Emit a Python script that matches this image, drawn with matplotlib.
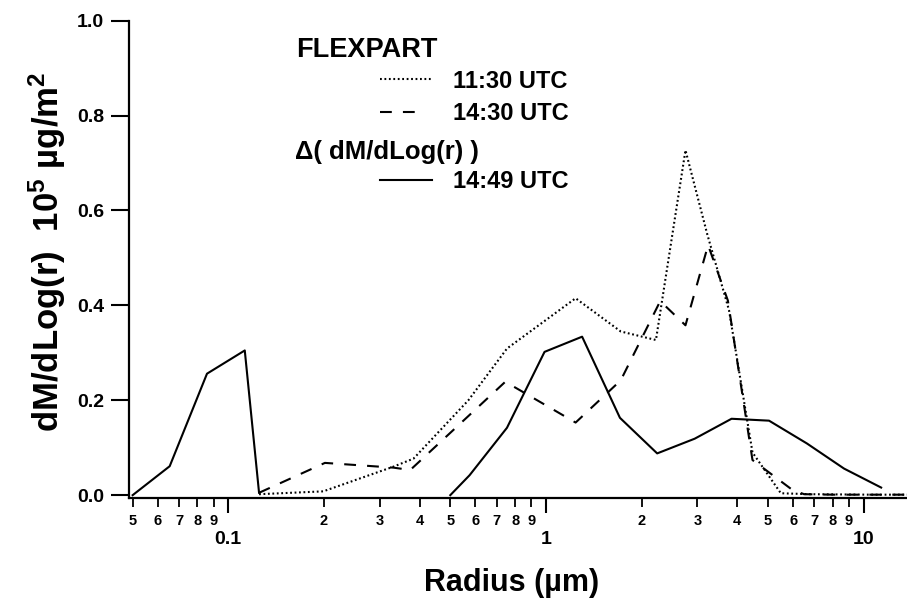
import numpy as np
import matplotlib
matplotlib.use("Agg")
import matplotlib.pyplot as plt
from matplotlib.lines import Line2D
from matplotlib.ticker import FixedLocator, FixedFormatter

plt.rcParams['font.family'] = ['Liberation Sans', 'DejaVu Sans']
plt.rcParams['font.weight'] = 'bold'
plt.rcParams['mathtext.fontset'] = 'custom'
plt.rcParams['mathtext.rm'] = 'Liberation Sans:bold'
plt.rcParams['mathtext.it'] = 'Liberation Sans:bold'
plt.rcParams['mathtext.bf'] = 'Liberation Sans:bold'
plt.rcParams['lines.scale_dashes'] = False

# FLEXPART mass size distribution, 11:30 UTC (dotted)
radius_1130 = [0.125, 0.199, 0.331, 0.383, 0.57, 0.754, 1.24, 1.72, 2.22,
               2.75, 3.22, 3.77, 4.47, 5.49, 6.8, 8.5, 10.5, 13.0, 16.0]
dmdlogr_1130 = [0.002, 0.008, 0.060, 0.077, 0.200, 0.309, 0.415, 0.345, 0.327,
                0.727, 0.550, 0.390, 0.090, 0.004, 0.002, 0.0015, 0.001, 0.001, 0.001]

# FLEXPART mass size distribution, 14:30 UTC (dashed)
radius_1430 = [0.125, 0.2015, 0.331, 0.374, 0.745, 1.24, 1.72, 2.29, 2.75,
               3.24, 3.74, 4.47, 5.97, 6.5, 8.0, 10.5, 13.0, 16.0]
dmdlogr_1430 = [0.005, 0.068, 0.058, 0.053, 0.239, 0.153, 0.242, 0.409, 0.358,
                0.527, 0.410, 0.074, 0.011, 0.002, 0.001, 0.001, 0.001, 0.001]

# Measured difference in dM/dLog(r), 14:49 UTC (solid); gap where not retrieved
radius_1449 = [0.05, 0.0654, 0.0857, 0.1127, 0.125, np.nan, 0.5, 0.575, 0.754,
               0.99, 1.30, 1.71, 2.24, 2.94, 3.84, 5.04, 6.63, 8.68, 11.36]
dmdlogr_1449 = [0.0, 0.061, 0.256, 0.305, 0.005, np.nan, 0.0, 0.042, 0.142,
                0.302, 0.334, 0.163, 0.088, 0.119, 0.161, 0.157, 0.109, 0.056, 0.016]

y_ticks = [0.0, 0.2, 0.4, 0.6, 0.8, 1.0]
x_major = [0.1, 1, 10]
x_major_labels = ['0.1', '1', '10']
x_minor = [0.05, 0.06, 0.07, 0.08, 0.09,
           0.2, 0.3, 0.4, 0.5, 0.6, 0.7, 0.8, 0.9,
           2, 3, 4, 5, 6, 7, 8, 9]
x_minor_labels = ['5', '6', '7', '8', '9',
                  '2', '3', '4', '5', '6', '7', '8', '9',
                  '2', '3', '4', '5', '6', '7', '8', '9']

W, H = 907, 602
fig = plt.figure(figsize=(W / 100, H / 100), dpi=100)


def fx(px):
    return px / W


def fy(py):
    return 1 - py / H


ax_left, ax_right, ax_top, ax_bottom = 129.3, 907.0, 20.7, 498.0
ax = fig.add_axes([fx(ax_left), fy(ax_bottom),
                   (ax_right - ax_left) / W, (ax_bottom - ax_top) / H])

LW = 1.5
dotted = (0, (1.3, 1.9))
dashed = (0, (8.5, 8.0))

ax.plot(radius_1130, dmdlogr_1130, color='black', lw=LW, linestyle=dotted,
        dash_capstyle='butt')
ax.plot(radius_1430, dmdlogr_1430, color='black', lw=LW, linestyle=dashed,
        dash_capstyle='butt')
ax.plot(radius_1449, dmdlogr_1449, color='black', lw=LW, linestyle='-')

ax.set_xscale('log')
ax.set_xlim(0.0488, 13.7)
ax.set_ylim(-0.006, 1.0)

for side in ('top', 'right'):
    ax.spines[side].set_visible(False)
for side in ('left', 'bottom'):
    ax.spines[side].set_linewidth(1.6)

ax.set_yticks(y_ticks)
ax.set_yticklabels([f'{t:.1f}' for t in y_ticks], fontsize=14, fontweight='bold')
ax.tick_params(axis='y', direction='out', length=13, width=1.5, pad=5)

ax.xaxis.set_major_locator(FixedLocator(x_major))
ax.xaxis.set_major_formatter(FixedFormatter(x_major_labels))
ax.xaxis.set_minor_locator(FixedLocator(x_minor))
ax.xaxis.set_minor_formatter(FixedFormatter(x_minor_labels))
ax.tick_params(axis='x', which='major', direction='out', length=11, width=1.5,
               pad=13, labelsize=14)
ax.tick_params(axis='x', which='minor', direction='out', length=6.5, width=1.3,
               pad=5, labelsize=10.5)
for lab in ax.get_xticklabels(which='both'):
    lab.set_fontweight('bold')

fig.text(fx(512), fy(591), 'Radius (µm)', fontsize=22, fontweight='bold',
         ha='center', va='baseline')
fig.text(fx(47), fy(252), 'dM/dLog(r)  10$^5$ µg/m$^2$', fontsize=25,
         fontweight='bold', rotation=90, ha='center', va='center')

# Legend block
fig.text(fx(296), fy(57), 'FLEXPART', fontsize=19.5, fontweight='bold',
         ha='left', va='baseline')
fig.text(fx(295), fy(159), 'Δ( dM/dLog(r) )', fontsize=18.5, fontweight='bold',
         ha='left', va='baseline')
legend_rows = [('11:30 UTC', dotted, 79, 88, 432),
               ('14:30 UTC', dashed, 112, 120, 421),
               ('14:49 UTC', '-', 180, 188, 432)]
for label, style, line_y, base_y, line_end in legend_rows:
    fig.add_artist(Line2D([fx(380), fx(line_end)], [fy(line_y), fy(line_y)],
                          transform=fig.transFigure, color='black', lw=LW,
                          linestyle=style, dash_capstyle='butt'))
    fig.text(fx(453), fy(base_y), label, fontsize=17, fontweight='bold',
             ha='left', va='baseline')

fig.savefig('out.png', dpi=100)
